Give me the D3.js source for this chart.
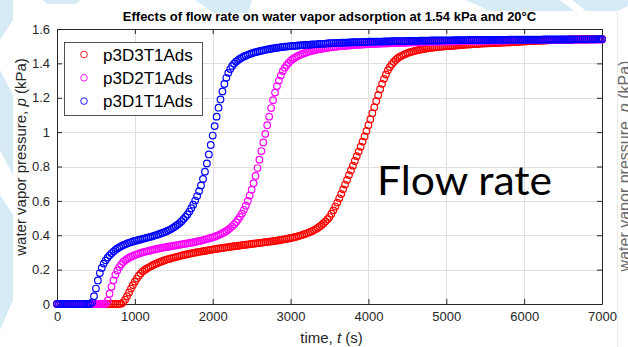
<!DOCTYPE html>
<html>
<head>
<meta charset="utf-8">
<script src="https://cdn.jsdelivr.net/npm/d3@7"></script>
<style>
  body { margin: 0; background: #fff; }
  svg { display: block; font-family: "Liberation Sans", Arial, sans-serif; }
</style>
</head>
<body>
<div id="chart"></div>
<script>
// sample times (s), shared by the three runs
const times = [
  0, 25, 50, 75, 100, 125, 150, 175, 200, 225, 250, 275, 300, 325, 350, 375, 400, 425, 450, 475,
  500, 525, 550, 575, 600, 625, 650, 675, 700, 725, 750, 775, 800, 825, 850, 875, 900, 925, 950, 975,
  1000, 1025, 1050, 1075, 1100, 1125, 1150, 1175, 1200, 1225, 1250, 1275, 1300, 1325, 1350, 1375, 1400, 1425, 1450, 1475,
  1500, 1525, 1550, 1575, 1600, 1625, 1650, 1675, 1700, 1725, 1750, 1775, 1800, 1825, 1850, 1875, 1900, 1925, 1950, 1975,
  2000, 2025, 2050, 2075, 2100, 2125, 2150, 2175, 2200, 2225, 2250, 2275, 2300, 2325, 2350, 2375, 2400, 2425, 2450, 2475,
  2500, 2525, 2550, 2575, 2600, 2625, 2650, 2675, 2700, 2725, 2750, 2775, 2800, 2825, 2850, 2875, 2900, 2925, 2950, 2975,
  3000, 3025, 3050, 3075, 3100, 3125, 3150, 3175, 3200, 3225, 3250, 3275, 3300, 3325, 3350, 3375, 3400, 3425, 3450, 3475,
  3500, 3525, 3550, 3575, 3600, 3625, 3650, 3675, 3700, 3725, 3750, 3775, 3800, 3825, 3850, 3875, 3900, 3925, 3950, 3975,
  4000, 4025, 4050, 4075, 4100, 4125, 4150, 4175, 4200, 4225, 4250, 4275, 4300, 4325, 4350, 4375, 4400, 4425, 4450, 4475,
  4500, 4525, 4550, 4575, 4600, 4625, 4650, 4675, 4700, 4725, 4750, 4775, 4800, 4825, 4850, 4875, 4900, 4925, 4950, 4975,
  5000, 5025, 5050, 5075, 5100, 5125, 5150, 5175, 5200, 5225, 5250, 5275, 5300, 5325, 5350, 5375, 5400, 5425, 5450, 5475,
  5500, 5525, 5550, 5575, 5600, 5625, 5650, 5675, 5700, 5725, 5750, 5775, 5800, 5825, 5850, 5875, 5900, 5925, 5950, 5975,
  6000, 6025, 6050, 6075, 6100, 6125, 6150, 6175, 6200, 6225, 6250, 6275, 6300, 6325, 6350, 6375, 6400, 6425, 6450, 6475,
  6500, 6525, 6550, 6575, 6600, 6625, 6650, 6675, 6700, 6725, 6750, 6775, 6800, 6825, 6850, 6875, 6900, 6925, 6950, 6975,
  7000
];

// p3D3T1Ads (kPa)
const p3D3 = [
  0, 0, 0, 0, 0, 0, 0, 0, 0, 0, 0, 0, 0, 0, 0, 0, 0, 0, 0, 0,
  0, 0, 0, 0, 0, 0, 0, 0, 0, 0, 0, 0, 0, 0.002, 0.01, 0.025, 0.045, 0.067, 0.09, 0.11,
  0.13, 0.148, 0.165, 0.178, 0.19, 0.198, 0.205, 0.212, 0.218, 0.224, 0.23, 0.235, 0.24, 0.245, 0.249, 0.253, 0.257, 0.261, 0.264, 0.267,
  0.27, 0.273, 0.276, 0.279, 0.282, 0.285, 0.287, 0.29, 0.292, 0.295, 0.297, 0.299, 0.301, 0.303, 0.305, 0.307, 0.309, 0.311, 0.313, 0.315,
  0.317, 0.319, 0.321, 0.323, 0.324, 0.326, 0.328, 0.33, 0.331, 0.333, 0.334, 0.336, 0.337, 0.339, 0.34, 0.342, 0.343, 0.345, 0.346, 0.348,
  0.349, 0.351, 0.352, 0.354, 0.355, 0.357, 0.358, 0.36, 0.361, 0.363, 0.364, 0.366, 0.367, 0.369, 0.371, 0.373, 0.375, 0.377, 0.379, 0.381,
  0.384, 0.386, 0.389, 0.392, 0.395, 0.398, 0.402, 0.406, 0.41, 0.414, 0.419, 0.424, 0.43, 0.436, 0.443, 0.451, 0.46, 0.47, 0.481, 0.493,
  0.506, 0.525, 0.545, 0.567, 0.59, 0.615, 0.64, 0.667, 0.695, 0.722, 0.75, 0.777, 0.805, 0.832, 0.86, 0.887, 0.915, 0.945, 0.975, 1.007,
  1.04, 1.075, 1.11, 1.145, 1.18, 1.215, 1.25, 1.281, 1.31, 1.336, 1.36, 1.379, 1.395, 1.408, 1.42, 1.43, 1.438, 1.444, 1.45, 1.455,
  1.46, 1.464, 1.467, 1.47, 1.473, 1.476, 1.478, 1.481, 1.483, 1.485, 1.487, 1.489, 1.49, 1.492, 1.493, 1.495, 1.496, 1.497, 1.498, 1.499,
  1.5, 1.5, 1.501, 1.502, 1.503, 1.504, 1.505, 1.506, 1.507, 1.508, 1.509, 1.51, 1.51, 1.511, 1.512, 1.513, 1.513, 1.514, 1.515, 1.515,
  1.516, 1.517, 1.517, 1.518, 1.518, 1.519, 1.519, 1.52, 1.52, 1.521, 1.521, 1.522, 1.522, 1.523, 1.524, 1.524, 1.525, 1.525, 1.526, 1.527,
  1.528, 1.528, 1.529, 1.529, 1.53, 1.53, 1.531, 1.531, 1.532, 1.532, 1.533, 1.533, 1.534, 1.534, 1.535, 1.535, 1.536, 1.536, 1.537, 1.537,
  1.538, 1.538, 1.538, 1.539, 1.539, 1.539, 1.54, 1.54, 1.54, 1.541, 1.541, 1.541, 1.541, 1.542, 1.542, 1.542, 1.542, 1.542, 1.543, 1.543,
  1.543
];

// p3D2T1Ads (kPa)
const p3D2 = [
  0, 0, 0, 0, 0, 0, 0, 0, 0, 0, 0, 0, 0, 0, 0, 0, 0, 0, 0, 0,
  0, 0, 0, 0, 0, 0.003, 0.02, 0.06, 0.1, 0.138, 0.17, 0.195, 0.215, 0.231, 0.245, 0.254, 0.262, 0.269, 0.275, 0.28,
  0.285, 0.289, 0.293, 0.297, 0.3, 0.303, 0.306, 0.309, 0.312, 0.315, 0.317, 0.32, 0.322, 0.325, 0.327, 0.329, 0.331, 0.333, 0.335, 0.337,
  0.339, 0.341, 0.343, 0.345, 0.347, 0.349, 0.351, 0.353, 0.355, 0.357, 0.359, 0.361, 0.364, 0.366, 0.369, 0.372, 0.375, 0.378, 0.381, 0.384,
  0.388, 0.392, 0.396, 0.401, 0.406, 0.412, 0.418, 0.425, 0.433, 0.442, 0.452, 0.463, 0.476, 0.491, 0.507, 0.526, 0.548, 0.572, 0.6, 0.631,
  0.665, 0.703, 0.745, 0.791, 0.84, 0.89, 0.94, 0.99, 1.04, 1.09, 1.14, 1.186, 1.23, 1.268, 1.3, 1.329, 1.355, 1.374, 1.39, 1.403,
  1.415, 1.424, 1.432, 1.439, 1.445, 1.45, 1.455, 1.459, 1.463, 1.467, 1.47, 1.473, 1.476, 1.479, 1.481, 1.483, 1.485, 1.487, 1.489, 1.491,
  1.492, 1.494, 1.495, 1.497, 1.498, 1.499, 1.5, 1.501, 1.502, 1.503, 1.504, 1.505, 1.506, 1.507, 1.508, 1.508, 1.509, 1.51, 1.511, 1.511,
  1.512, 1.512, 1.513, 1.513, 1.514, 1.514, 1.515, 1.515, 1.516, 1.516, 1.517, 1.517, 1.518, 1.518, 1.519, 1.519, 1.52, 1.52, 1.52, 1.52,
  1.521, 1.521, 1.522, 1.522, 1.523, 1.523, 1.523, 1.523, 1.524, 1.524, 1.525, 1.525, 1.525, 1.525, 1.526, 1.526, 1.526, 1.526, 1.527, 1.527,
  1.527, 1.527, 1.528, 1.528, 1.528, 1.528, 1.529, 1.529, 1.529, 1.529, 1.53, 1.53, 1.53, 1.53, 1.53, 1.53, 1.531, 1.531, 1.531, 1.531,
  1.532, 1.532, 1.532, 1.532, 1.532, 1.532, 1.533, 1.533, 1.533, 1.533, 1.533, 1.533, 1.534, 1.534, 1.534, 1.534, 1.534, 1.534, 1.535, 1.535,
  1.535, 1.535, 1.535, 1.535, 1.535, 1.535, 1.536, 1.536, 1.536, 1.536, 1.536, 1.536, 1.536, 1.536, 1.537, 1.537, 1.537, 1.537, 1.537, 1.537,
  1.537, 1.537, 1.537, 1.537, 1.538, 1.538, 1.538, 1.538, 1.538, 1.538, 1.538, 1.538, 1.538, 1.538, 1.539, 1.539, 1.539, 1.539, 1.539, 1.539,
  1.539
];

// p3D1T1Ads (kPa)
const p3D1 = [
  0, 0, 0, 0, 0, 0, 0, 0, 0, 0, 0, 0, 0, 0, 0, 0, 0, 0, 0.01, 0.045,
  0.09, 0.137, 0.18, 0.21, 0.235, 0.254, 0.27, 0.283, 0.295, 0.305, 0.315, 0.323, 0.33, 0.336, 0.342, 0.347, 0.352, 0.356, 0.36, 0.364,
  0.367, 0.37, 0.373, 0.376, 0.379, 0.382, 0.385, 0.388, 0.391, 0.394, 0.398, 0.401, 0.405, 0.409, 0.413, 0.417, 0.422, 0.427, 0.433, 0.439,
  0.446, 0.454, 0.462, 0.471, 0.482, 0.494, 0.507, 0.521, 0.538, 0.557, 0.578, 0.602, 0.628, 0.657, 0.69, 0.728, 0.77, 0.818, 0.87, 0.925,
  0.98, 1.035, 1.09, 1.142, 1.19, 1.237, 1.28, 1.316, 1.345, 1.367, 1.385, 1.399, 1.41, 1.419, 1.427, 1.434, 1.44, 1.445, 1.45, 1.454,
  1.458, 1.462, 1.465, 1.468, 1.471, 1.474, 1.476, 1.479, 1.481, 1.483, 1.485, 1.487, 1.489, 1.491, 1.492, 1.494, 1.495, 1.497, 1.498, 1.499,
  1.5, 1.501, 1.502, 1.503, 1.504, 1.505, 1.506, 1.507, 1.508, 1.508, 1.509, 1.51, 1.511, 1.511, 1.512, 1.513, 1.514, 1.514, 1.515, 1.516,
  1.517, 1.517, 1.518, 1.518, 1.519, 1.519, 1.52, 1.52, 1.521, 1.521, 1.522, 1.522, 1.523, 1.523, 1.523, 1.523, 1.524, 1.524, 1.525, 1.525,
  1.526, 1.526, 1.526, 1.526, 1.527, 1.527, 1.527, 1.527, 1.528, 1.528, 1.528, 1.528, 1.529, 1.529, 1.529, 1.529, 1.53, 1.53, 1.53, 1.53,
  1.531, 1.531, 1.531, 1.531, 1.531, 1.531, 1.532, 1.532, 1.532, 1.532, 1.532, 1.532, 1.533, 1.533, 1.533, 1.533, 1.533, 1.533, 1.534, 1.534,
  1.534, 1.534, 1.534, 1.534, 1.535, 1.535, 1.535, 1.535, 1.535, 1.535, 1.535, 1.535, 1.536, 1.536, 1.536, 1.536, 1.536, 1.536, 1.536, 1.536,
  1.536, 1.536, 1.537, 1.537, 1.537, 1.537, 1.537, 1.537, 1.537, 1.537, 1.537, 1.537, 1.538, 1.538, 1.538, 1.538, 1.538, 1.538, 1.538, 1.538,
  1.538, 1.538, 1.538, 1.538, 1.538, 1.538, 1.538, 1.538, 1.538, 1.538, 1.539, 1.539, 1.539, 1.539, 1.539, 1.539, 1.539, 1.539, 1.539, 1.539,
  1.539, 1.539, 1.539, 1.539, 1.539, 1.539, 1.54, 1.54, 1.54, 1.54, 1.54, 1.54, 1.54, 1.54, 1.54, 1.54, 1.54, 1.54, 1.541, 1.541,
  1.541
];

const seriesNames = ['p3D3T1Ads', 'p3D2T1Ads', 'p3D1T1Ads'];
const seriesValues = [p3D3, p3D2, p3D1];
const seriesColors = ['#ff0000', '#ff00ff', '#0000ff'];

const xTicks = [0, 1000, 2000, 3000, 4000, 5000, 6000, 7000];
const yTicks = [0, 0.2, 0.4, 0.6, 0.8, 1, 1.2, 1.4, 1.6];

const titleText = 'Effects of flow rate on water vapor adsorption at 1.54 kPa and 20\u00B0C';
const noteText = 'Flow rate';

const W = 628, H = 347;
const axisColor = '#262626';
const markerR = 3.3, markerStroke = 1.2;

const x = d3.scaleLinear().domain([0, 7000]).range([57, 602]);
const y = d3.scaleLinear().domain([0, 1.6]).range([304, 29]);

const svg = d3.select('#chart').append('svg')
    .attr('width', W)
    .attr('height', H);

// slide backdrop behind the pasted figure
const deco = svg.append('g').attr('fill', '#d6ebf6');
[
    [[0, 0], [13, 0], [13, 20], [0, 40]],
    [[0, 70], [13, 95], [13, 175], [0, 150]],
    [[0, 195], [13, 215], [13, 300], [0, 330]],
    [[43, 0], [80, 0], [76, 4], [47, 4]],
    [[195, 0], [252, 0], [248, 13], [214, 13]],
    [[466, 0], [560, 0], [574, 11], [490, 11]],
    [[572, 0], [628, 0], [628, 6], [618, 11], [586, 11]]
].forEach(pts => deco.append('polygon').attr('points', pts.map(p => p.join(',')).join(' ')));

// edge of the neighbouring figure on the right
svg.append('line')
    .attr('x1', 617.5).attr('x2', 617.5).attr('y1', 12).attr('y2', H)
    .attr('stroke', '#ececec');
const ghost = svg.append('text')
    .attr('transform', 'translate(630,166) rotate(-90)')
    .attr('text-anchor', 'middle')
    .attr('font-size', 16)
    .attr('fill', '#6a6a6a');
ghost.append('tspan').text('water vapor pressure,  ');
ghost.append('tspan').attr('font-style', 'italic').text('p');
ghost.append('tspan').text(' (kPa)');

// plot background
svg.append('rect')
    .attr('x', x(0)).attr('y', y(1.6))
    .attr('width', x(7000) - x(0)).attr('height', y(0) - y(1.6))
    .attr('fill', '#fff');

// grid
const grid = svg.append('g')
    .attr('stroke', '#dfdfdf')
    .attr('shape-rendering', 'crispEdges');
grid.selectAll('.gx').data(xTicks.slice(1, -1)).join('line')
    .attr('x1', d => Math.round(x(d)) + 0.5).attr('x2', d => Math.round(x(d)) + 0.5)
    .attr('y1', y(1.6)).attr('y2', y(0));
grid.selectAll('.gy').data(yTicks.slice(1, -1)).join('line')
    .attr('y1', d => Math.round(y(d)) + 0.5).attr('y2', d => Math.round(y(d)) + 0.5)
    .attr('x1', x(0)).attr('x2', x(7000));

// axes, ticks pointing inward on all four sides
const styleAxis = g => {
    g.selectAll('path, line').attr('stroke', axisColor);
    g.selectAll('text').attr('fill', axisColor).attr('font-size', 13);
};
svg.append('g')
    .attr('transform', `translate(0,${y(0)})`)
    .call(d3.axisBottom(x).tickValues(xTicks).tickFormat(d3.format('d')).tickSize(-5).tickSizeOuter(0).tickPadding(8))
    .call(styleAxis);
svg.append('g')
    .attr('transform', `translate(${x(0)},0)`)
    .call(d3.axisLeft(y).tickValues(yTicks).tickFormat(d3.format('~g')).tickSize(-5).tickSizeOuter(0).tickPadding(7))
    .call(styleAxis);
svg.append('g')
    .attr('transform', `translate(0,${y(1.6)})`)
    .call(d3.axisTop(x).tickValues(xTicks).tickFormat('').tickSize(-5).tickSizeOuter(0))
    .call(styleAxis);
svg.append('g')
    .attr('transform', `translate(${x(7000)},0)`)
    .call(d3.axisRight(y).tickValues(yTicks).tickFormat('').tickSize(-5).tickSizeOuter(0))
    .call(styleAxis);

// the three runs as open circle markers
seriesValues.forEach((vals, i) => {
    svg.append('g')
        .attr('fill', 'none')
        .attr('stroke', seriesColors[i])
        .attr('stroke-width', markerStroke)
        .selectAll('circle')
        .data(times.map((t, k) => [t, vals[k]]))
        .join('circle')
        .attr('cx', d => x(d[0]))
        .attr('cy', d => y(d[1]))
        .attr('r', markerR);
});

// title and axis labels
svg.append('text')
    .attr('x', (x(0) + x(7000)) / 2).attr('y', 21)
    .attr('text-anchor', 'middle')
    .attr('font-size', 13).attr('font-weight', 'bold')
    .attr('fill', '#000')
    .text(titleText);

const xLabel = svg.append('text')
    .attr('x', (x(0) + x(7000)) / 2 + 2).attr('y', 343)
    .attr('text-anchor', 'middle')
    .attr('font-size', 15)
    .attr('fill', axisColor);
xLabel.append('tspan').text('time,  ');
xLabel.append('tspan').attr('font-style', 'italic').text('t');
xLabel.append('tspan').text(' (s)');

const yLabel = svg.append('text')
    .attr('transform', 'translate(26,157) rotate(-90)')
    .attr('text-anchor', 'middle')
    .attr('font-size', 15)
    .attr('fill', axisColor);
yLabel.append('tspan').text('water vapor pressure,  ');
yLabel.append('tspan').attr('font-style', 'italic').text('p');
yLabel.append('tspan').text(' (kPa)');

// legend
const legend = svg.append('g');
legend.append('rect')
    .attr('x', 64.5).attr('y', 42.5)
    .attr('width', 138).attr('height', 73)
    .attr('fill', '#fff')
    .attr('stroke', axisColor).attr('stroke-width', 0.8);
seriesNames.forEach((name, i) => {
    const ly = 54.5 + i * 23.3;
    legend.append('circle')
        .attr('cx', 84).attr('cy', ly).attr('r', markerR)
        .attr('fill', 'none').attr('stroke', seriesColors[i]).attr('stroke-width', 0.9);
    legend.append('text')
        .attr('x', 103).attr('y', ly).attr('dy', '0.36em')
        .attr('font-size', 17)
        .attr('fill', '#000')
        .text(name);
});

// annotation pasted onto the slide
svg.append('text')
    .attr('x', 377).attr('y', 195)
    .attr('font-family', 'Lato, "Open Sans", sans-serif')
    .attr('font-size', 40)
    .attr('textLength', 175)
    .attr('lengthAdjust', 'spacingAndGlyphs')
    .attr('fill', '#000')
    .text(noteText);
</script>
</body>
</html>
